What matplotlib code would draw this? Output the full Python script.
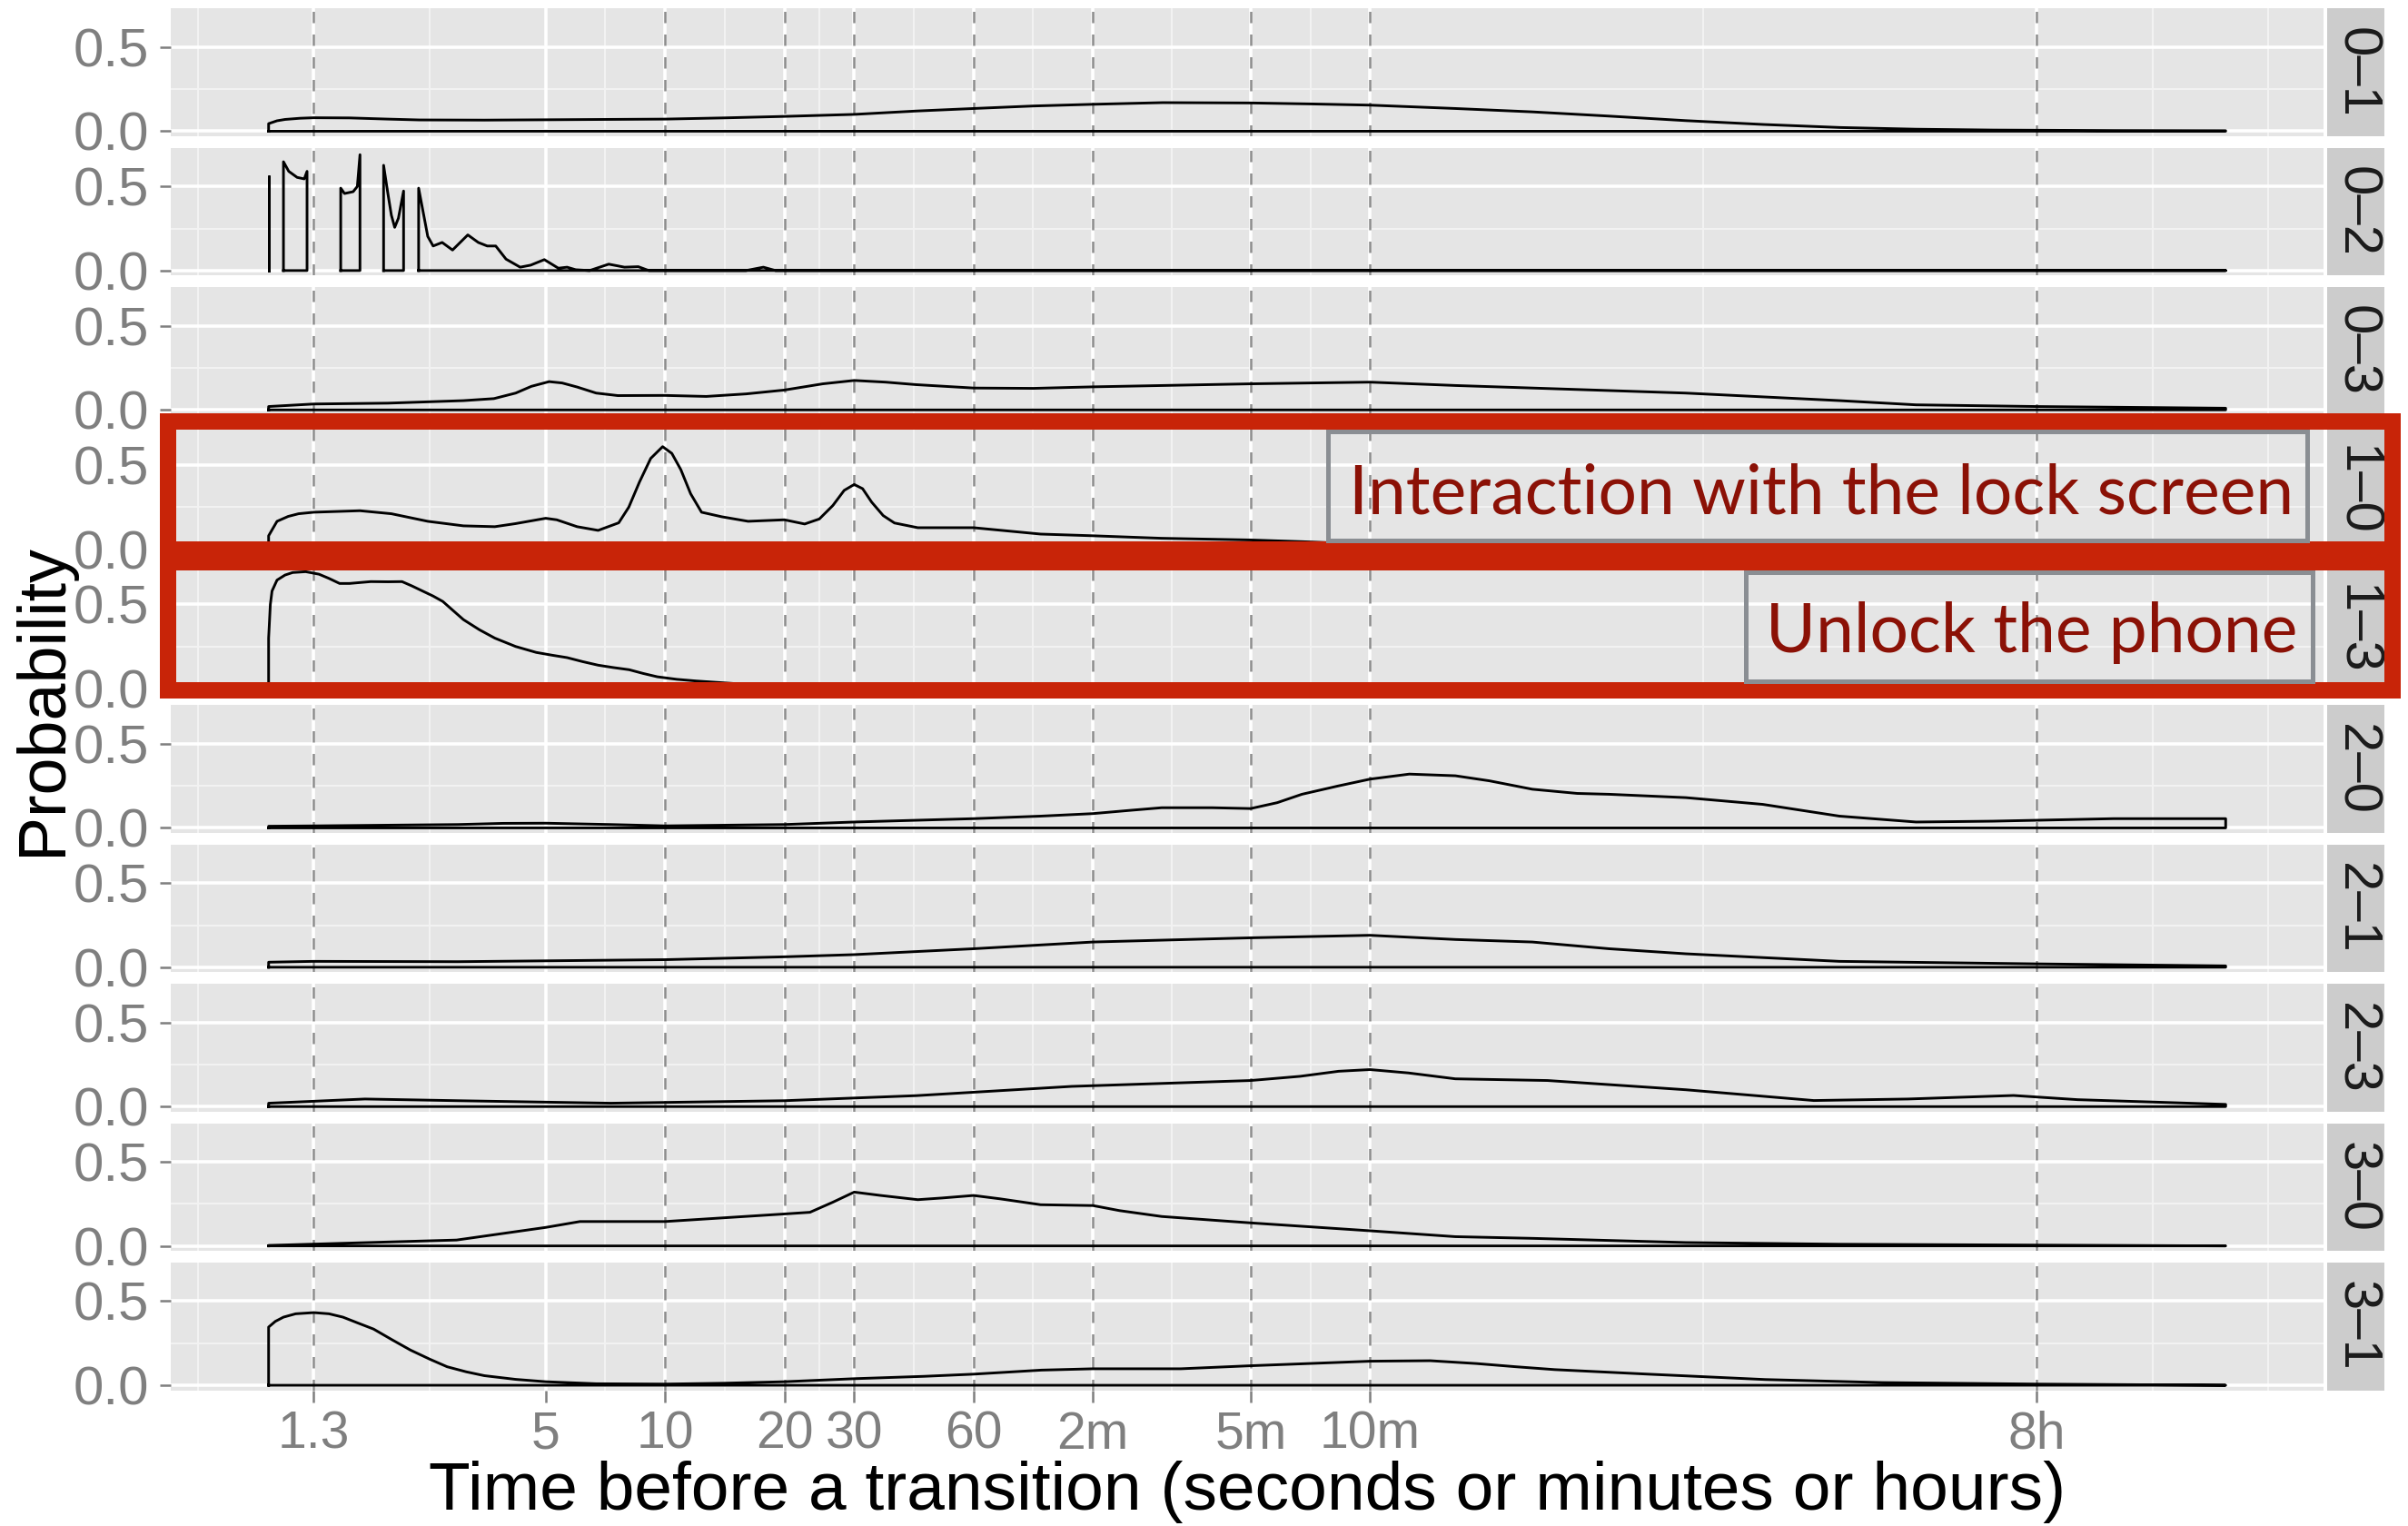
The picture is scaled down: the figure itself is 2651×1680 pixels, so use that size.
import numpy as np
import matplotlib.pyplot as plt
from matplotlib.patches import Rectangle
from matplotlib.ticker import FixedLocator, NullLocator

plt.rcParams['font.family'] = ['Liberation Sans', 'DejaVu Sans']

# facets: transition between states
facets = ['0–1', '0–2', '0–3', '1–0', '1–3', '2–0', '2–1', '2–3', '3–0', '3–1']

# x axis breaks in seconds
breaks = [1.3, 5, 10, 20, 30, 60, 120, 300, 600, 28800]
break_labels = ['1.3', '5', '10', '20', '30', '60', '2m', '5m', '10m', '8h']
dashed_at = [1.3, 10, 20, 30, 60, 120, 300, 600, 28800]

# density per transition (time in seconds, probability)
t_01 = [1.0, 1.05, 1.1, 1.2, 1.3, 1.6, 2.0, 2.4, 3.5, 5, 7, 10, 14, 20, 30, 43, 60,
        85, 120, 180, 300, 430, 600, 985, 1540, 2400, 3750, 5900, 9200, 14300,
        22400, 45000, 86400]
p_01 = [0.045, 0.062, 0.07, 0.077, 0.08, 0.079, 0.072, 0.067, 0.066, 0.068, 0.07,
        0.072, 0.079, 0.088, 0.10, 0.12, 0.135, 0.15, 0.16, 0.17, 0.168, 0.162,
        0.155, 0.135, 0.115, 0.09, 0.063, 0.04, 0.022, 0.012, 0.007, 0.004, 0.003]

# 0-2 falls apart into separate pieces
t_02 = [[1.0],
        [1.09, 1.124, 1.18, 1.23, 1.25],
        [1.52, 1.554, 1.634, 1.674, 1.70],
        [1.95, 2.0, 2.04, 2.08, 2.125, 2.19],
        [2.39, 2.52, 2.60, 2.74, 2.91, 3.18, 3.38, 3.56, 3.74, 3.97, 4.31, 4.58,
         4.96, 5.38, 5.66, 5.95, 6.45, 7.21, 7.90, 8.56, 9.10, 16.0, 17.7, 19.0, 86400]]
p_02 = [[0.563],
        [0.647, 0.59, 0.554, 0.545, 0.59],
        [0.49, 0.458, 0.469, 0.50, 0.689],
        [0.626, 0.455, 0.329, 0.257, 0.311, 0.473],
        [0.49, 0.203, 0.146, 0.167, 0.122, 0.212, 0.167, 0.146, 0.146, 0.068, 0.02,
         0.032, 0.065, 0.014, 0.02, 0.005, 0.0, 0.038, 0.02, 0.023, 0.0, 0.0, 0.02,
         0.0, 0.0]]

t_03 = [1.0, 1.3, 2.0, 3.1, 3.7, 4.2, 4.6, 5.1, 5.5, 6.0, 6.7, 7.6, 10, 12.7, 16,
        20, 25, 30, 36, 43, 60, 85, 120, 200, 300, 600, 985, 1540, 3750, 9200,
        14300, 28800, 86400]
p_03 = [0.02, 0.035, 0.04, 0.055, 0.067, 0.10, 0.14, 0.168, 0.16, 0.136, 0.10,
        0.085, 0.086, 0.08, 0.095, 0.118, 0.155, 0.175, 0.165, 0.15, 0.13, 0.128,
        0.137, 0.147, 0.155, 0.165, 0.145, 0.13, 0.10, 0.055, 0.03, 0.02, 0.01]

t_10 = [1.0, 1.05, 1.12, 1.19, 1.3, 1.7, 2.04, 2.52, 3.1, 3.72, 4.19, 5.0, 5.33,
        6.0, 6.78, 7.64, 8.1, 8.62, 9.2, 9.86, 10.4, 10.96, 11.6, 12.36, 13.9,
        16.2, 20, 22.5, 24.5, 26.5, 28.3, 30, 31.5, 33.2, 35.5, 37.9, 43.4, 60,
        88.6, 120, 179, 300, 404, 600, 1540, 9165, 86400]
p_10 = [0.08, 0.166, 0.195, 0.211, 0.22, 0.229, 0.211, 0.166, 0.139, 0.134, 0.152,
        0.184, 0.175, 0.134, 0.112, 0.157, 0.25, 0.40, 0.54, 0.61, 0.57, 0.473,
        0.33, 0.22, 0.193, 0.166, 0.175, 0.15, 0.18, 0.26, 0.35, 0.385, 0.36, 0.28,
        0.2, 0.156, 0.128, 0.128, 0.09, 0.08, 0.065, 0.055, 0.045, 0.03, 0.015,
        0.008, 0.003]

t_13 = [1.0, 1.01, 1.02, 1.05, 1.1, 1.15, 1.24, 1.34, 1.42, 1.51, 1.6, 1.81, 2.0,
        2.17, 2.3, 2.44, 2.6, 2.75, 2.9, 3.1, 3.4, 3.72, 4.2, 4.73, 5.2, 5.66, 6.2,
        6.78, 7.4, 8.12, 8.8, 9.56, 10.7, 12.0, 14.9, 17.8, 30, 120, 86400]
p_13 = [0.30, 0.50, 0.58, 0.645, 0.675, 0.69, 0.695, 0.68, 0.655, 0.625, 0.625,
        0.636, 0.635, 0.636, 0.61, 0.581, 0.55, 0.518, 0.47, 0.41, 0.35, 0.30, 0.25,
        0.215, 0.198, 0.184, 0.16, 0.139, 0.125, 0.112, 0.09, 0.07, 0.055, 0.045,
        0.03, 0.02, 0.008, 0.004, 0.002]

t_20 = [1.0, 1.3, 3.0, 3.9, 5, 7.3, 10, 20, 30, 60, 88.6, 120, 150, 179, 240, 300,
        350, 404, 500, 600, 754, 985, 1200, 1540, 2000, 2405, 3757, 5870, 9165,
        14310, 22370, 45080, 86400]
p_20 = [0.01, 0.012, 0.02, 0.027, 0.028, 0.02, 0.012, 0.02, 0.035, 0.055, 0.07,
        0.085, 0.105, 0.12, 0.12, 0.115, 0.15, 0.2, 0.25, 0.29, 0.32, 0.31, 0.28,
        0.23, 0.205, 0.2, 0.18, 0.14, 0.07, 0.035, 0.04, 0.055, 0.055]

t_21 = [1.0, 1.3, 3.0, 10, 20, 30, 60, 120, 300, 600, 985, 1540, 2405, 3757, 9165,
        28800, 86400]
p_21 = [0.03, 0.035, 0.033, 0.045, 0.062, 0.075, 0.11, 0.15, 0.175, 0.19, 0.165,
        0.15, 0.11, 0.08, 0.035, 0.02, 0.008]

t_23 = [1.0, 1.75, 3.0, 7.3, 20, 43, 106, 300, 400, 500, 600, 750, 985, 1683, 3757,
        7900, 13650, 25200, 36600, 56700, 86400]
p_23 = [0.02, 0.045, 0.035, 0.02, 0.035, 0.065, 0.12, 0.155, 0.18, 0.21, 0.22, 0.2,
        0.165, 0.155, 0.10, 0.036, 0.045, 0.066, 0.041, 0.027, 0.013]

t_30 = [1.0, 2.98, 5, 6.1, 10, 20, 23.2, 26.5, 30, 35, 43.4, 50, 60, 70, 88.6, 120,
        140, 179, 300, 600, 985, 1540, 3757, 9165, 86400]
p_30 = [0.003, 0.035, 0.11, 0.145, 0.145, 0.19, 0.2, 0.26, 0.32, 0.30, 0.275, 0.285,
        0.30, 0.28, 0.245, 0.24, 0.21, 0.175, 0.137, 0.09, 0.055, 0.045, 0.02, 0.01,
        0.0]

t_31 = [1.0, 1.04, 1.09, 1.17, 1.3, 1.42, 1.54, 1.68, 1.84, 2.05, 2.28, 2.55, 2.82,
        3.15, 3.5, 4.2, 5, 6.7, 10, 14, 20, 30, 45, 60, 89, 120, 200, 300, 600, 851,
        1115, 1400, 1755, 3019, 5960, 11750, 28800, 86400]
p_31 = [0.346, 0.38, 0.405, 0.425, 0.432, 0.425, 0.405, 0.37, 0.334, 0.27, 0.209,
        0.155, 0.11, 0.08, 0.057, 0.035, 0.021, 0.009, 0.007, 0.012, 0.021, 0.039,
        0.053, 0.066, 0.09, 0.098, 0.098, 0.116, 0.143, 0.146, 0.129, 0.11, 0.093,
        0.066, 0.034, 0.016, 0.007, 0.0]

series = [[t_01], t_02, [t_03], [t_10], [t_13], [t_20], [t_21], [t_23], [t_30], [t_31]]
values = [[p_01], p_02, [p_03], [p_10], [p_13], [p_20], [p_21], [p_23], [p_30], [p_31]]

W, H = 2651, 1680
fig = plt.figure(figsize=(W / 100, H / 100), dpi=100)


def frac(x0, y0, x1, y1):
    # pixel box measured from the top left -> figure fraction rect
    return [x0 / W, 1 - y1 / H, (x1 - x0) / W, (y1 - y0) / H]


panel_l, panel_r = 188, 2558
strip_l, strip_r = 2562, 2625
top0, step, ph = 9.3, 153.4, 140.7

# log x range of the data, padded 5% each side
lo, hi = 0.0, np.log10(86400)
pad = 0.05 * (hi - lo)
xlim = (10 ** (lo - pad), 10 ** (hi + pad))

# minor grid: halfway between breaks in log space, one step past each end
lb = np.log10(breaks)
ext = np.concatenate([[lb[0] - (lb[1] - lb[0])], lb, [lb[-1] + (lb[1] - lb[0])]])
minor = np.concatenate([(ext[:-1] + ext[1:]) / 2, ext[[0, -1]]])
minor = 10 ** minor[(minor > lo - pad) & (minor < hi + pad)]

grey = '#7F7F7F'
for i, name in enumerate(facets):
    top = top0 + i * step
    ax = fig.add_axes(frac(panel_l, top, panel_r, top + ph))
    ax.set_facecolor('#E5E5E5')
    ax.set_xscale('log')
    ax.set_xlim(xlim)
    ax.set_ylim(-0.03, 0.73)
    for s in ax.spines.values():
        s.set_visible(False)

    for m in minor:
        ax.axvline(m, color='#F2F2F2', lw=1.5, zorder=0.5)
    ax.axhline(0.25, color='#F2F2F2', lw=1.5, zorder=0.5)
    for b in breaks:
        ax.axvline(b, color='white', lw=2.6, zorder=1)
    for yv in (0, 0.5):
        ax.axhline(yv, color='white', lw=2.6, zorder=1)
    for d in dashed_at:
        ax.axvline(d, color='#8C8C8C', lw=1.8, ls=(0, (5, 5)), zorder=2)

    for t, p in zip(series[i], values[i]):
        xs = [t[0]] + list(t) + [t[-1], t[0]]
        ys = [0] + list(p) + [0, 0]
        ax.plot(xs, ys, color='black', lw=2.1, zorder=4)

    ax.set_yticks([0, 0.5])
    ax.set_yticklabels(['0.0', '0.5'])
    ax.tick_params(axis='y', length=9, width=1.8, color=grey, labelcolor=grey,
                   labelsize=43, pad=8)
    ax.xaxis.set_major_locator(FixedLocator(breaks))
    ax.xaxis.set_minor_locator(NullLocator())
    if i == len(facets) - 1:
        ax.set_xticklabels(break_labels)
        ax.tick_params(axis='x', length=9, width=1.8, color=grey, labelcolor=grey,
                       labelsize=41, pad=7)
    else:
        ax.tick_params(axis='x', length=0, labelbottom=False)

    sax = fig.add_axes(frac(strip_l, top, strip_r, top + ph))
    sax.set_facecolor('#CCCCCC')
    sax.set_xticks([])
    sax.set_yticks([])
    for s in sax.spines.values():
        s.set_visible(False)
    sax.text(0.5, 0.5, name, rotation=270, ha='center', va='center',
             fontsize=43, color='#1A1A1A', transform=sax.transAxes)

fig.text(47 / W, 1 - 770 / H, 'Probability', rotation=90, ha='center', va='center',
         fontsize=53, color='black')
fig.text(1373 / W, 1 - 1662 / H, 'Time before a transition (seconds or minutes or hours)',
         ha='center', va='baseline', fontsize=54, color='black')

# highlight frames around the 1-0 and 1-3 panels
red = '#C82408'
for y0, y1 in [(464, 605), (619, 760)]:
    fig.add_artist(Rectangle((185 / W, 1 - y1 / H), (2634 - 185) / W, (y1 - y0) / H,
                             transform=fig.transFigure, fill=False, ec=red,
                             lw=18 * 0.72, joinstyle='miter', zorder=10))

notes = [('Interaction with the lock screen', (1462, 475, 2540, 595), 2525, 565),
         ('Unlock the phone', (1922, 630, 2546, 750), 2529, 718)]
for label, (x0, y0, x1, y1), tx, ty in notes:
    fig.add_artist(Rectangle((x0 / W, 1 - y1 / H), (x1 - x0) / W, (y1 - y0) / H,
                             transform=fig.transFigure, fill=False, ec='#8A8E93',
                             lw=3.6, joinstyle='miter', zorder=11))
    fig.text(tx / W, 1 - ty / H, label, ha='right', va='baseline', fontsize=54,
             family=['Lato', 'DejaVu Sans'], color='#8B1106', zorder=12)

fig.savefig('out.png', dpi=100)
